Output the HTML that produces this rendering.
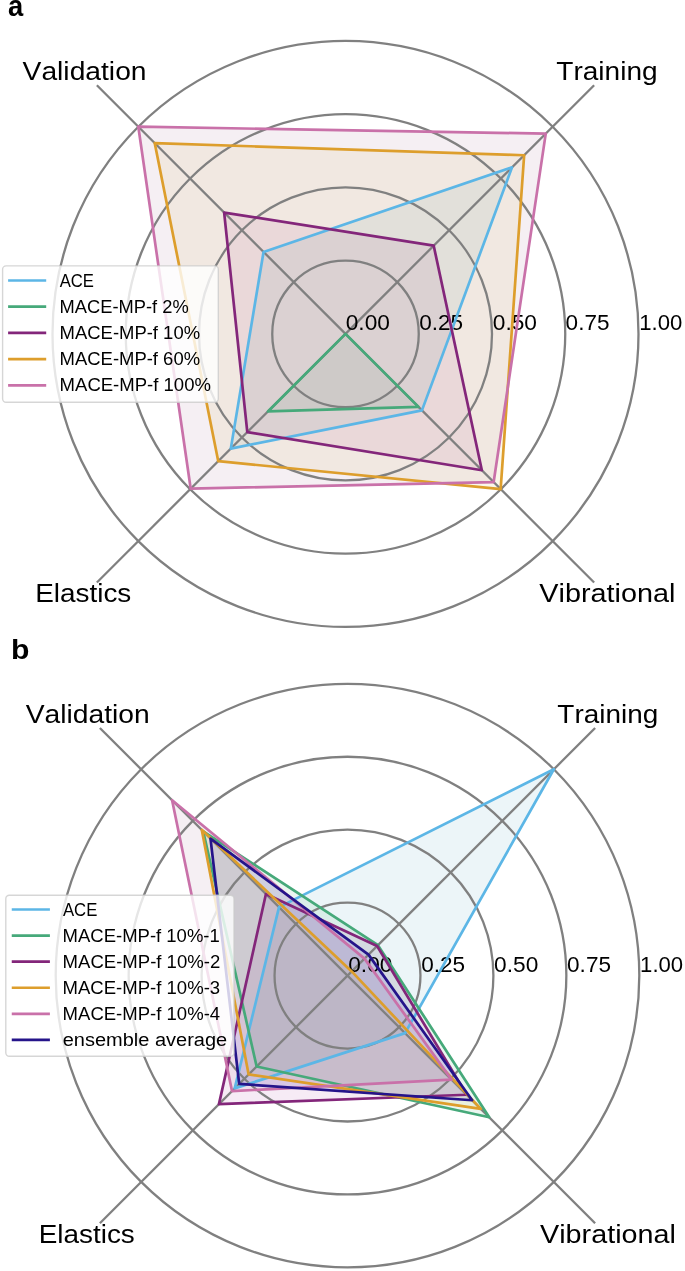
<!DOCTYPE html>
<html><head><meta charset="utf-8"><title>Radar charts</title>
<style>html,body{margin:0;padding:0;background:#fff;width:685px;height:1271px;overflow:hidden}svg{display:block;filter:blur(0.5px)}text{font-family:"Liberation Sans",sans-serif;font-kerning:none}</style>
</head><body>
<svg width="685" height="1271" viewBox="0 0 685 1271">
<rect width="685" height="1271" fill="#fff"/>
<polygon points="512,167.4 263.55,251.95 230.8,448.6 421.95,410.35" fill="#419BB9" fill-opacity="0.1" stroke="none"/>
<polygon points="345.5,333.9 345.5,333.9 267.95,411.45 418.5,406.9" fill="#39A26E" fill-opacity="0.1" stroke="none"/>
<polygon points="433.7,245.7 224.15,212.55 247.3,432.1 481.85,470.25" fill="#A73E9E" fill-opacity="0.1" stroke="none"/>
<polygon points="524.15,155.25 154.7,143.1 218.25,461.15 500.65,489.05" fill="#D3BC37" fill-opacity="0.1" stroke="none"/>
<polygon points="545.75,133.65 138.32,126.72 190.7,488.7 493.65,482.05" fill="#9B5F87" fill-opacity="0.1" stroke="none"/>
<circle cx="345.5" cy="333.9" r="73.25" fill="none" stroke="#808080" stroke-width="2.3"/>
<circle cx="345.5" cy="333.9" r="146.5" fill="none" stroke="#808080" stroke-width="2.3"/>
<circle cx="345.5" cy="333.9" r="219.75" fill="none" stroke="#808080" stroke-width="2.3"/>
<circle cx="345.5" cy="333.9" r="293" fill="none" stroke="#808080" stroke-width="2.3"/>
<line x1="345.5" y1="333.9" x2="594.12" y2="85.28" stroke="#808080" stroke-width="2.3"/>
<line x1="345.5" y1="333.9" x2="96.88" y2="85.28" stroke="#808080" stroke-width="2.3"/>
<line x1="345.5" y1="333.9" x2="96.88" y2="582.52" stroke="#808080" stroke-width="2.3"/>
<line x1="345.5" y1="333.9" x2="594.12" y2="582.52" stroke="#808080" stroke-width="2.3"/>
<text x="345.71" y="330" font-size="21.6" textLength="44.17" lengthAdjust="spacingAndGlyphs" fill="#000">0.00</text>
<text x="419.22" y="330" font-size="21.6" textLength="43.93" lengthAdjust="spacingAndGlyphs" fill="#000">0.25</text>
<text x="492.81" y="330" font-size="21.6" textLength="44.17" lengthAdjust="spacingAndGlyphs" fill="#000">0.50</text>
<text x="565.62" y="330" font-size="21.6" textLength="43.83" lengthAdjust="spacingAndGlyphs" fill="#000">0.75</text>
<text x="639.32" y="330" font-size="21.6" textLength="43.05" lengthAdjust="spacingAndGlyphs" fill="#000">1.00</text>
<text x="22.58" y="79.5" font-size="26.6" textLength="123.96" lengthAdjust="spacingAndGlyphs" fill="#000">Validation</text>
<text x="556.27" y="79.5" font-size="26.6" textLength="101.34" lengthAdjust="spacingAndGlyphs" fill="#000">Training</text>
<text x="35.21" y="602.2" font-size="26.6" textLength="96.1" lengthAdjust="spacingAndGlyphs" fill="#000">Elastics</text>
<text x="539.37" y="602.2" font-size="26.6" textLength="136.15" lengthAdjust="spacingAndGlyphs" fill="#000">Vibrational</text>
<polygon points="512,167.4 263.55,251.95 230.8,448.6 421.95,410.35" fill="none" stroke="#5CB6E6" stroke-width="2.7" stroke-linejoin="round"/>
<polygon points="345.5,333.9 345.5,333.9 267.95,411.45 418.5,406.9" fill="none" stroke="#46A97A" stroke-width="2.7" stroke-linejoin="round"/>
<polygon points="433.7,245.7 224.15,212.55 247.3,432.1 481.85,470.25" fill="none" stroke="#83267A" stroke-width="2.7" stroke-linejoin="round"/>
<polygon points="524.15,155.25 154.7,143.1 218.25,461.15 500.65,489.05" fill="none" stroke="#DD9E2C" stroke-width="2.7" stroke-linejoin="round"/>
<polygon points="545.75,133.65 138.32,126.72 190.7,488.7 493.65,482.05" fill="none" stroke="#C971A9" stroke-width="2.7" stroke-linejoin="round"/>
<rect x="2.6" y="265.9" width="215.7" height="136.3" rx="3.5" ry="3.5" fill="#fff" fill-opacity="0.8" stroke="#cccccc" stroke-opacity="0.8" stroke-width="1.4"/>
<line x1="8.1" y1="280.5" x2="46.2" y2="280.5" stroke="#5CB6E6" stroke-width="2.7"/>
<text x="59.67" y="286.5" font-size="18.8" textLength="34.25" lengthAdjust="spacingAndGlyphs" fill="#000">ACE</text>
<line x1="8.1" y1="306.7" x2="46.2" y2="306.7" stroke="#46A97A" stroke-width="2.7"/>
<text x="59.6" y="312.7" font-size="18.8" textLength="129.05" lengthAdjust="spacingAndGlyphs" fill="#000">MACE-MP-f 2%</text>
<line x1="8.1" y1="332.9" x2="46.2" y2="332.9" stroke="#83267A" stroke-width="2.7"/>
<text x="59.59" y="338.9" font-size="18.8" textLength="140.47" lengthAdjust="spacingAndGlyphs" fill="#000">MACE-MP-f 10%</text>
<line x1="8.1" y1="359.1" x2="46.2" y2="359.1" stroke="#DD9E2C" stroke-width="2.7"/>
<text x="59.59" y="365.1" font-size="18.8" textLength="140.47" lengthAdjust="spacingAndGlyphs" fill="#000">MACE-MP-f 60%</text>
<line x1="8.1" y1="385.3" x2="46.2" y2="385.3" stroke="#C971A9" stroke-width="2.7"/>
<text x="59.58" y="391.3" font-size="18.8" textLength="151.38" lengthAdjust="spacingAndGlyphs" fill="#000">MACE-MP-f 100%</text>
<text x="8" y="15.7" font-size="28.6" font-weight="bold" textLength="15.23" lengthAdjust="spacingAndGlyphs" fill="#000">a</text>
<polygon points="553.83,769.27 279.05,907.15 234.7,1088.4 405.05,1033.15" fill="#419BB9" fill-opacity="0.1" stroke="none"/>
<polygon points="377.95,945.15 203.2,831.3 256.65,1066.45 489.2,1117.3" fill="#39A26E" fill-opacity="0.1" stroke="none"/>
<polygon points="377.1,946 265.95,894.05 218.95,1104.15 466.65,1094.75" fill="#A73E9E" fill-opacity="0.1" stroke="none"/>
<polygon points="351.7,971.4 201.75,829.85 248.65,1074.45 480.8,1108.9" fill="#D3BC37" fill-opacity="0.1" stroke="none"/>
<polygon points="364.5,958.6 172.1,800.2 232,1091.1 451.55,1079.65" fill="#9B5F87" fill-opacity="0.1" stroke="none"/>
<polygon points="368.5,954.6 210.5,838.6 239.2,1083.9 472.15,1100.25" fill="#250EB6" fill-opacity="0.1" stroke="none"/>
<circle cx="347.5" cy="975.6" r="72.95" fill="none" stroke="#808080" stroke-width="2.3"/>
<circle cx="347.5" cy="975.6" r="145.9" fill="none" stroke="#808080" stroke-width="2.3"/>
<circle cx="347.5" cy="975.6" r="218.85" fill="none" stroke="#808080" stroke-width="2.3"/>
<circle cx="347.5" cy="975.6" r="291.8" fill="none" stroke="#808080" stroke-width="2.3"/>
<line x1="347.5" y1="975.6" x2="595.1" y2="728" stroke="#808080" stroke-width="2.3"/>
<line x1="347.5" y1="975.6" x2="99.9" y2="728" stroke="#808080" stroke-width="2.3"/>
<line x1="347.5" y1="975.6" x2="99.9" y2="1223.2" stroke="#808080" stroke-width="2.3"/>
<line x1="347.5" y1="975.6" x2="595.1" y2="1223.2" stroke="#808080" stroke-width="2.3"/>
<text x="348.21" y="971.8" font-size="21.6" textLength="44.17" lengthAdjust="spacingAndGlyphs" fill="#000">0.00</text>
<text x="421.17" y="971.8" font-size="21.6" textLength="43.93" lengthAdjust="spacingAndGlyphs" fill="#000">0.25</text>
<text x="494.11" y="971.8" font-size="21.6" textLength="44.17" lengthAdjust="spacingAndGlyphs" fill="#000">0.50</text>
<text x="567.07" y="971.8" font-size="21.6" textLength="43.93" lengthAdjust="spacingAndGlyphs" fill="#000">0.75</text>
<text x="640.12" y="971.8" font-size="21.6" textLength="43.05" lengthAdjust="spacingAndGlyphs" fill="#000">1.00</text>
<text x="25.68" y="722.6" font-size="26.6" textLength="124.06" lengthAdjust="spacingAndGlyphs" fill="#000">Validation</text>
<text x="557.37" y="722.6" font-size="26.6" textLength="100.83" lengthAdjust="spacingAndGlyphs" fill="#000">Training</text>
<text x="38.71" y="1242.9" font-size="26.6" textLength="96.1" lengthAdjust="spacingAndGlyphs" fill="#000">Elastics</text>
<text x="540.07" y="1242.9" font-size="26.6" textLength="135.85" lengthAdjust="spacingAndGlyphs" fill="#000">Vibrational</text>
<polygon points="553.83,769.27 279.05,907.15 234.7,1088.4 405.05,1033.15" fill="none" stroke="#5CB6E6" stroke-width="2.7" stroke-linejoin="round"/>
<polygon points="377.95,945.15 203.2,831.3 256.65,1066.45 489.2,1117.3" fill="none" stroke="#46A97A" stroke-width="2.7" stroke-linejoin="round"/>
<polygon points="377.1,946 265.95,894.05 218.95,1104.15 466.65,1094.75" fill="none" stroke="#83267A" stroke-width="2.7" stroke-linejoin="round"/>
<polygon points="351.7,971.4 201.75,829.85 248.65,1074.45 480.8,1108.9" fill="none" stroke="#DD9E2C" stroke-width="2.7" stroke-linejoin="round"/>
<polygon points="364.5,958.6 172.1,800.2 232,1091.1 451.55,1079.65" fill="none" stroke="#C971A9" stroke-width="2.7" stroke-linejoin="round"/>
<polygon points="368.5,954.6 210.5,838.6 239.2,1083.9 472.15,1100.25" fill="none" stroke="#25148A" stroke-width="2.7" stroke-linejoin="round"/>
<rect x="5.8" y="895.2" width="228.2" height="161" rx="3.5" ry="3.5" fill="#fff" fill-opacity="0.8" stroke="#cccccc" stroke-opacity="0.8" stroke-width="1.4"/>
<line x1="11.75" y1="909.5" x2="49.9" y2="909.5" stroke="#5CB6E6" stroke-width="2.7"/>
<text x="62.97" y="915.5" font-size="18.8" textLength="34.35" lengthAdjust="spacingAndGlyphs" fill="#000">ACE</text>
<line x1="11.75" y1="935.58" x2="49.9" y2="935.58" stroke="#46A97A" stroke-width="2.7"/>
<text x="62.58" y="941.58" font-size="18.8" textLength="157.22" lengthAdjust="spacingAndGlyphs" fill="#000">MACE-MP-f 10%-1</text>
<line x1="11.75" y1="961.66" x2="49.9" y2="961.66" stroke="#83267A" stroke-width="2.7"/>
<text x="62.58" y="967.66" font-size="18.8" textLength="157.65" lengthAdjust="spacingAndGlyphs" fill="#000">MACE-MP-f 10%-2</text>
<line x1="11.75" y1="987.74" x2="49.9" y2="987.74" stroke="#DD9E2C" stroke-width="2.7"/>
<text x="62.58" y="993.74" font-size="18.8" textLength="157.53" lengthAdjust="spacingAndGlyphs" fill="#000">MACE-MP-f 10%-3</text>
<line x1="11.75" y1="1013.82" x2="49.9" y2="1013.82" stroke="#C971A9" stroke-width="2.7"/>
<text x="62.58" y="1019.82" font-size="18.8" textLength="157.56" lengthAdjust="spacingAndGlyphs" fill="#000">MACE-MP-f 10%-4</text>
<line x1="11.75" y1="1039.9" x2="49.9" y2="1039.9" stroke="#25148A" stroke-width="2.7"/>
<text x="62.75" y="1045.9" font-size="18.8" textLength="164.44" lengthAdjust="spacingAndGlyphs" fill="#000">ensemble average</text>
<text x="11.01" y="658.8" font-size="26.8" font-weight="bold" textLength="18.43" lengthAdjust="spacingAndGlyphs" fill="#000">b</text>
</svg>
</body></html>
